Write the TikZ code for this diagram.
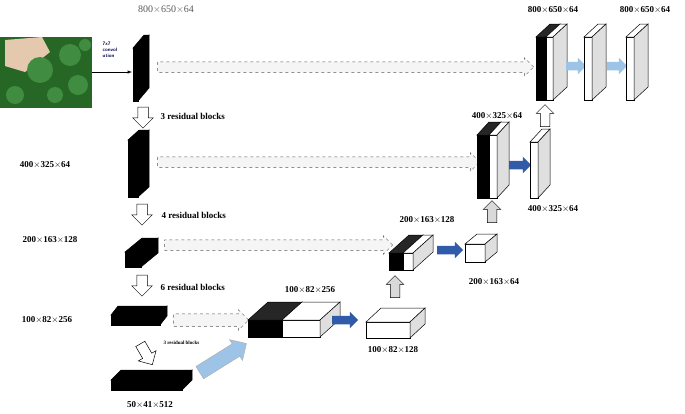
\documentclass[tikz,border=0pt]{standalone}
\usepackage{fontspec}
\setmainfont{Liberation Serif}
\usetikzlibrary{shapes.arrows}
\definecolor{skyarrow}{HTML}{9DC3E6}
\definecolor{deeparrow}{HTML}{2F5BA8}

% cuboid: x, y (front top-left), w, h, dx, dy, front, top, side
\newcommand{\cuboid}[9]{%
  \draw[fill=#7] (#1,#2) rectangle ++(#3,#4);
  \draw[fill=#8] (#1,#2) -- ++(#5,-#6) -- ++(#3,0) -- ++(-#5,#6) -- cycle;
  \draw[fill=#9] (#1+#3,#2) -- ++(#5,-#6) -- ++(0,#4) -- ++(-#5,#6) -- cycle;
}

\tikzset{
  blk/.style={single arrow, draw, inner xsep=0pt, inner ysep=4pt, single arrow head extend=4pt},
  skip/.style={blk, dashed, draw=gray!70!black, fill=gray!8, inner ysep=5pt},
  down/.style={blk, fill=white, inner ysep=5pt, single arrow head extend=5pt, minimum height=21pt, rotate=-90},
  up/.style={blk, inner ysep=4.5pt, single arrow head extend=4pt, minimum height=22pt, rotate=90},
  dark/.style={blk, draw=none, fill=deeparrow, minimum height=26pt},
  light/.style={blk, draw=gray!60, fill=skyarrow, minimum height=20pt},
  size/.style={font=\small\bfseries},
}

\begin{document}
\begin{tikzpicture}[x=1pt,y=-1pt,line width=0.5pt]
  \useasboundingbox (0,0) rectangle (685,413);

  % input image
  \fill[green!30!black!85] (0,37) rectangle (92,108);
  \fill[brown!50!white!85] (5,40) -- (42,37) -- (50,52) -- (25,72) -- (5,66) -- cycle;
  \foreach \cx/\cy/\r in {40/70/13,70/55/11,78/85/10,15/95/9,55/95/8,85/45/6}
    \fill[green!40!black!75] (\cx,\cy) circle (\r);
  \node[font=\tiny\bfseries\sffamily, align=left, text=blue!30!black] (convlbl) at (110,50) {7x7\\convol\\ution};
  \node[text=gray!70!black] (s0) at (166,10) {800$\times$650$\times$64};
  \coordinate (img) at (92,72);
  \coordinate (conv) at (132,72);
  \draw[-latex] (img) -- (conv);

  % encoder
  \cuboid{133}{48}{5}{53}{11}{13}{black}{black}{black}
  \cuboid{128}{140}{10}{57}{11}{10}{black}{black}{black}
  \cuboid{125}{252}{16}{15}{17}{14}{black}{black}{black}
  \cuboid{111}{315}{49}{10}{7}{9}{black}{black}{black}
  \cuboid{111}{380}{71}{10}{10}{10}{black}{black}{black}

  \node[size] (s1) at (45,165) {400$\times$325$\times$64};
  \node[size] (s2) at (50,240) {200$\times$163$\times$128};
  \node[size] (s3) at (47,320) {100$\times$82$\times$256};
  \node[size] (s4) at (150,405) {50$\times$41$\times$512};

  \node[down] (d1) at (143,115) {};
  \node[size, anchor=west] (r1) at (157,116) {3 residual blocks};
  \node[down] (d2) at (142,212) {};
  \node[size, anchor=west] (r2) at (158,215) {4 residual blocks};
  \node[down] (d3) at (142,283) {};
  \node[size, anchor=west] (r3) at (157,287) {6 residual blocks};
  \node[down, rotate=30, minimum height=24pt] (d4) at (145,352) {};
  \node[font=\tiny\bfseries, anchor=west] (r4) at (160,343) {3 residual blocks};
  \node[light, inner ysep=7pt, single arrow head extend=5pt, minimum height=55pt, rotate=32] (bridge) at (220,360) {};

  % skip connections
  \node[skip, minimum height=376pt] (k1) at (343,67) {};
  \node[skip, minimum height=322pt] (k2) at (316,162) {};
  \node[skip, minimum height=228pt] (k3) at (276,245) {};
  \node[skip, minimum height=75pt, inner ysep=6pt] (k4) at (208,320) {};

  % decoder
  \cuboid{248}{320}{34}{17}{20}{18}{black}{black!85}{black}
  \cuboid{282}{320}{38}{17}{20}{18}{white}{white}{gray!25}
  \node[size] (s5) at (310,290) {100$\times$82$\times$256};
  \node[dark] (a1) at (343,320) {};
  \cuboid{366}{322}{44}{16}{15}{14}{white}{white}{gray!25}
  \node[size] (s6) at (393,350) {100$\times$82$\times$128};
  \node[up, fill=gray!30] (u1) at (395,289) {};

  \cuboid{389}{253}{14}{17}{20}{18}{black}{black!85}{black}
  \cuboid{403}{253}{10}{17}{20}{18}{white}{white}{gray!25}
  \node[size] (s7) at (427,220) {200$\times$163$\times$128};
  \node[dark] (a2) at (448,250) {};
  \cuboid{465}{244}{20}{18}{12}{10}{white}{white}{gray!25}
  \node[size] (s8) at (494,282) {200$\times$163$\times$64};
  \node[up, fill=gray!30] (u2) at (492,214) {};

  \cuboid{477}{135}{12}{63}{12}{13}{black}{black!85}{black}
  \cuboid{489}{135}{8}{63}{12}{13}{white}{white}{gray!25}
  \node[size] (s9) at (497,116) {400$\times$325$\times$64};
  \node[dark, minimum height=22pt] (a3) at (518,165) {};
  \cuboid{530}{142}{8}{56}{12}{13}{white}{white}{gray!25}
  \node[size] (s10) at (553,209) {400$\times$325$\times$64};
  \node[up, fill=white] (u3) at (545,118) {};

  \cuboid{536}{37}{10}{63}{14}{13}{black}{black!85}{black}
  \cuboid{546}{37}{7}{63}{14}{13}{white}{white}{gray!25}
  \node[size] (s11) at (553,10) {800$\times$650$\times$64};
  \node[light, draw=none] (a4) at (574,66) {};
  \cuboid{584}{37}{8}{63}{14}{13}{white}{white}{gray!25}
  \node[light, draw=none] (a5) at (615,66) {};
  \cuboid{626}{37}{8}{63}{14}{13}{white}{white}{gray!25}
  \node[size] (s12) at (645,10) {800$\times$650$\times$64};
\end{tikzpicture}
\end{document}
